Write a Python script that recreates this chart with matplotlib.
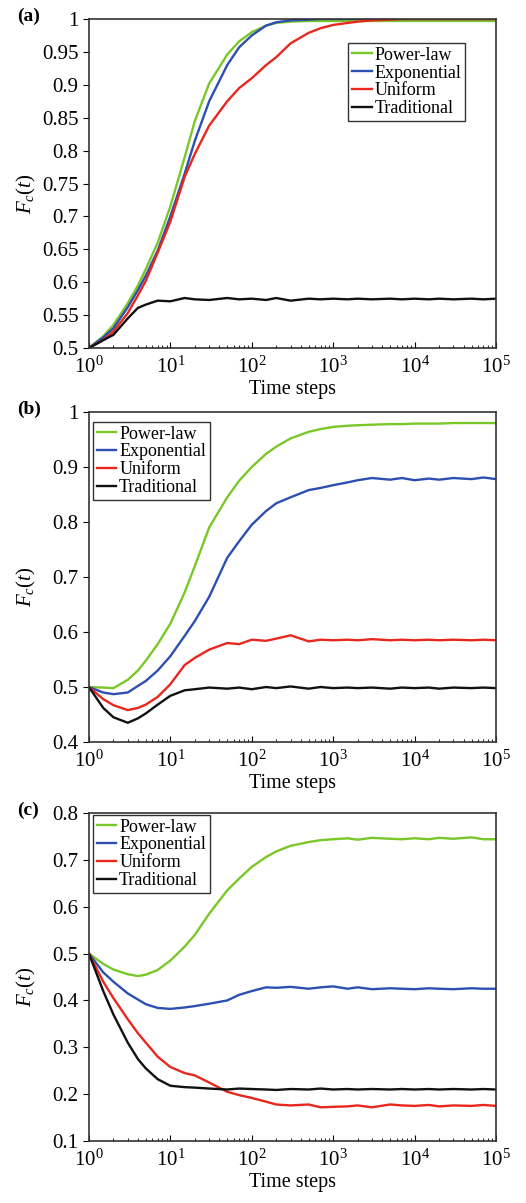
"""Fraction of cooperators F_c(t) over time for three settings."""

import matplotlib.pyplot as plt
from matplotlib.ticker import FuncFormatter, LogLocator, NullFormatter

plt.rcParams['font.family'] = ['Liberation Serif', 'DejaVu Serif']
plt.rcParams['mathtext.fontset'] = 'custom'
plt.rcParams['mathtext.rm'] = 'Liberation Serif'
plt.rcParams['mathtext.it'] = 'Liberation Serif:italic'
plt.rcParams['mathtext.bf'] = 'Liberation Serif:bold'

# time steps shared by all curves
steps = [1, 1.5, 2, 3, 4, 5, 7, 10, 15, 20, 30, 50, 70, 100, 150, 200, 300,
         500, 700, 1000, 1500, 2000, 3000, 5000, 7000, 10000, 15000, 20000,
         30000, 50000, 70000, 100000]

labels = ['Power-law', 'Exponential', 'Uniform', 'Traditional']
colors = ['#7ac729', '#2d4fb4', '#e8281e', '#111111']

# panel (a)
a_power = [0.5, 0.518, 0.535, 0.568, 0.595, 0.62, 0.66, 0.715, 0.79, 0.845,
           0.902, 0.946, 0.966, 0.98, 0.99, 0.994, 0.996, 0.997, 0.997, 0.997,
           0.997, 0.997, 0.997, 0.997, 0.997, 0.997, 0.997, 0.997, 0.997,
           0.997, 0.997, 0.997]
a_expo = [0.5, 0.516, 0.53, 0.562, 0.588, 0.61, 0.648, 0.70, 0.765, 0.815,
          0.875, 0.93, 0.957, 0.975, 0.99, 0.995, 0.998, 0.999, 1.0, 1.0,
          1.0, 1.0, 1.0, 1.0, 1.0, 1.0, 1.0, 1.0, 1.0, 1.0, 1.0, 1.0]
a_unif = [0.5, 0.512, 0.525, 0.553, 0.58, 0.602, 0.645, 0.692, 0.76, 0.795,
          0.838, 0.875, 0.895, 0.91, 0.93, 0.942, 0.963, 0.979, 0.986, 0.991,
          0.994, 0.996, 0.998, 0.999, 1.0, 1.0, 1.0, 1.0, 1.0, 1.0, 1.0, 1.0]
a_trad = [0.5, 0.512, 0.52, 0.545, 0.561, 0.566, 0.572, 0.571, 0.576, 0.574,
          0.573, 0.576, 0.574, 0.575, 0.573, 0.576, 0.572, 0.575, 0.574, 0.575,
          0.574, 0.575, 0.574, 0.575, 0.574, 0.575, 0.574, 0.575, 0.574,
          0.575, 0.574, 0.575]

# panel (b)
b_power = [0.5, 0.499, 0.498, 0.513, 0.53, 0.548, 0.578, 0.615, 0.672, 0.72,
           0.79, 0.845, 0.875, 0.90, 0.924, 0.937, 0.952, 0.964, 0.969, 0.973,
           0.975, 0.976, 0.977, 0.978, 0.978, 0.979, 0.979, 0.979, 0.98, 0.98,
           0.98, 0.98]
b_expo = [0.5, 0.49, 0.487, 0.49, 0.502, 0.511, 0.53, 0.556, 0.593, 0.62,
          0.664, 0.735, 0.765, 0.795, 0.82, 0.834, 0.845, 0.858, 0.862, 0.867,
          0.872, 0.876, 0.88, 0.877, 0.88, 0.876, 0.879, 0.877, 0.88, 0.878,
          0.881, 0.878]
b_unif = [0.5, 0.478, 0.467, 0.458, 0.462, 0.468, 0.482, 0.505, 0.54, 0.553,
          0.568, 0.58, 0.578, 0.586, 0.584, 0.588, 0.594, 0.583, 0.586, 0.585,
          0.586, 0.585, 0.587, 0.585, 0.586, 0.585, 0.586, 0.585, 0.586,
          0.585, 0.586, 0.585]
b_trad = [0.5, 0.462, 0.445, 0.435, 0.443, 0.452, 0.468, 0.484, 0.494, 0.496,
          0.499, 0.497, 0.499, 0.496, 0.5, 0.498, 0.501, 0.497, 0.5, 0.498,
          0.499, 0.498, 0.499, 0.497, 0.499, 0.498, 0.499, 0.497, 0.499,
          0.498, 0.499, 0.498]

# panel (c)
c_power = [0.5, 0.478, 0.466, 0.456, 0.452, 0.455, 0.465, 0.485, 0.515, 0.54,
           0.585, 0.635, 0.66, 0.685, 0.706, 0.718, 0.73, 0.738, 0.742, 0.744,
           0.746, 0.743, 0.747, 0.745, 0.744, 0.746, 0.744, 0.747, 0.745,
           0.748, 0.744, 0.744]
c_expo = [0.5, 0.46, 0.44, 0.415, 0.402, 0.392, 0.384, 0.382, 0.385, 0.388,
          0.393, 0.40, 0.412, 0.42, 0.428, 0.427, 0.429, 0.425, 0.428, 0.43,
          0.425, 0.428, 0.424, 0.426, 0.425, 0.424, 0.426, 0.425, 0.424,
          0.426, 0.425, 0.425]
c_unif = [0.5, 0.44, 0.405, 0.36, 0.33, 0.31, 0.28, 0.258, 0.245, 0.24,
          0.225, 0.205, 0.198, 0.192, 0.184, 0.178, 0.176, 0.178, 0.172, 0.173,
          0.174, 0.176, 0.172, 0.178, 0.176, 0.175, 0.177, 0.174, 0.176,
          0.175, 0.177, 0.175]
c_trad = [0.5, 0.42, 0.37, 0.31, 0.275, 0.255, 0.232, 0.218, 0.215, 0.214,
          0.212, 0.21, 0.212, 0.211, 0.21, 0.209, 0.211, 0.21, 0.212, 0.21,
          0.211, 0.21, 0.211, 0.21, 0.211, 0.21, 0.211, 0.21, 0.211, 0.21,
          0.211, 0.21]

panels = [
    ('(a)', [a_power, a_expo, a_unif, a_trad], (0.5, 1.0),
     [0.5, 0.55, 0.6, 0.65, 0.7, 0.75, 0.8, 0.85, 0.9, 0.95, 1.0],
     [0.7107, 0.9842], 'upper right', (0.924, 0.927)),
    ('(b)', [b_power, b_expo, b_unif, b_trad], (0.4, 1.0),
     [0.4, 0.5, 0.6, 0.7, 0.8, 0.9, 1.0],
     [0.3832, 0.6575], 'upper left', (0.01, 0.97)),
    ('(c)', [c_power, c_expo, c_unif, c_trad], (0.1, 0.8),
     [0.1, 0.2, 0.3, 0.4, 0.5, 0.6, 0.7, 0.8],
     [0.0515, 0.3242], 'upper left', (0.01, 0.994)),
]

fig = plt.figure(figsize=(5.26, 12.03), dpi=100)

for tag, series, ylim, yticks, (y0, y1), loc, anchor in panels:
    ax = fig.add_axes([0.169, y0, 0.774, y1 - y0])
    for vals, lab, col in zip(series, labels, colors):
        ax.plot(steps, vals, color=col, lw=1.7, label=lab)

    ax.set_xscale('log')
    ax.set_xlim(1, 1e5)
    ax.set_ylim(*ylim)
    ax.set_yticks(yticks)
    ax.yaxis.set_major_formatter(FuncFormatter(lambda v, p: '%g' % v))
    ax.xaxis.set_minor_locator(LogLocator(base=10, subs=range(2, 10)))
    ax.xaxis.set_minor_formatter(NullFormatter())
    ax.tick_params(axis='x', direction='in', length=4, labelsize=15, pad=6)
    ax.tick_params(axis='x', which='minor', direction='in', length=2.5)
    ax.tick_params(axis='y', direction='out', length=4, labelsize=15)
    for s in ax.spines.values():
        s.set_linewidth(1.2)
        s.set_color('#333333')

    ax.set_xlabel('Time steps', fontsize=14.5, labelpad=2)
    ax.set_ylabel(r'$F_c(t)$', fontsize=15)
    ax.yaxis.set_label_coords(-0.125, 0.47)

    leg = ax.legend(loc=loc, bbox_to_anchor=anchor, fontsize=13,
                    handlelength=1.1, handletextpad=0.15, labelspacing=0.05,
                    borderpad=0.2, borderaxespad=0, fancybox=False,
                    framealpha=1, edgecolor='#333333')
    leg.get_frame().set_linewidth(1.0)

    fig.text(0.032, y1 + 0.002, tag, fontsize=14, fontweight='bold',
             va='center', ha='left')

fig.savefig('out.png', dpi=100)
